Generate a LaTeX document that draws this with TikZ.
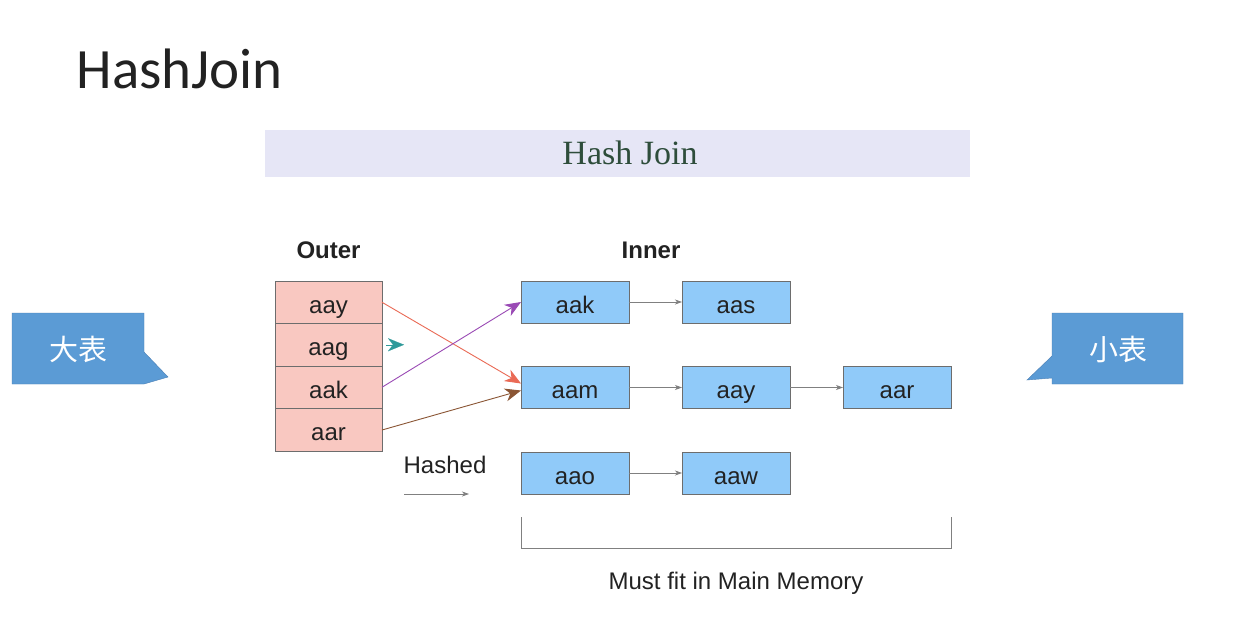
\documentclass[tikz,border=0pt]{standalone}
\usepackage{fontspec}
\setmainfont{Liberation Sans}
\newfontfamily\cjk{Noto Sans CJK SC}
\newfontfamily\headfont{Carlito}
\newfontfamily\bannerfont{Liberation Serif}
\usetikzlibrary{arrows.meta,calc}
\definecolor{outerfill}{HTML}{F9C8C1}
\definecolor{innerfill}{HTML}{90CAF9}
\definecolor{boxline}{HTML}{6D6D6D}
\definecolor{banner}{HTML}{E6E6F6}
\definecolor{bannertext}{HTML}{2E4D3B}
\definecolor{callout}{HTML}{5B9BD5}
\definecolor{calloutline}{HTML}{4A7FB5}
\definecolor{redarr}{HTML}{EA6A55}
\definecolor{purplearr}{HTML}{9A4AB5}
\definecolor{brownarr}{HTML}{8A5534}
\definecolor{tealarr}{HTML}{2E9A9A}
\definecolor{ink}{HTML}{222222}
\tikzset{
  outerbox/.style={rectangle,draw=boxline,fill=outerfill,minimum width=107pt,
    minimum height=42.5pt,inner sep=0pt,outer sep=0pt,text=ink,
    font=\fontsize{24}{28}\selectfont,text height=26pt,text depth=4pt},
  innerbox/.style={rectangle,draw=boxline,fill=innerfill,minimum width=108pt,
    minimum height=42pt,inner sep=0pt,outer sep=0pt,text=ink,
    font=\fontsize{24}{28}\selectfont,text height=26pt,text depth=4pt},
  link/.style={draw=gray,line width=0.8pt,-{Stealth[length=7pt,width=5pt,inset=2pt]}},
  hashline/.style={line width=0.9pt,-{Stealth[length=16pt,width=13pt,inset=5pt]}},
  label/.style={font=\fontsize{24}{28}\selectfont,text=ink},
}
\begin{document}
\begin{tikzpicture}[x=1pt,y=-1pt]
      \useasboundingbox[fill=white] (0,0) rectangle (1233,624);
      % title and banner
      \node[anchor=west,font=\headfont\fontsize{57}{62}\selectfont,text=ink] (title) at (73,69) {HashJoin};
      \fill[banner] (265,130) rectangle (970,177);
      \node[font=\bannerfont\fontsize{34}{38}\selectfont,text=bannertext] (banner) at (630,153) {Hash Join};

      % outer table
      \node[label,font=\bfseries\fontsize{24}{28}\selectfont] (outer) at (328.5,250) {Outer};
      \node[outerbox] (oy) at (328.5,302.25) {aay};
      \node[outerbox] (og) at (328.5,344.75) {aag};
      \node[outerbox] (ok) at (328.5,387.25) {aak};
      \node[outerbox] (or) at (328.5,429.75) {aar};

      % inner hash table
      \node[label,font=\bfseries\fontsize{24}{28}\selectfont] (inner) at (651,250) {Inner};
      \node[innerbox] (k1) at (575,302) {aak};
      \node[innerbox] (k2) at (736,302) {aas};
      \node[innerbox] (m1) at (575,387.5) {aam};
      \node[innerbox] (m2) at (736,387.5) {aay};
      \node[innerbox] (m3) at (897,387.5) {aar};
      \node[innerbox] (w1) at (575,473) {aao};
      \node[innerbox] (w2) at (736,473) {aaw};

      \draw[link] (k1) -- (k2);
      \draw[link] (m1) -- (m2);
      \draw[link] (m2) -- (m3);
      \draw[link] (w1) -- (w2);

      % hashed arrows
      \draw[hashline,redarr] (oy.east) -- ($(m1.west)+(0,-4)$);
      \draw[hashline,purplearr] (ok.east) -- (k1.west);
      \draw[hashline,brownarr] (or.east |- 0,430) -- ($(m1.west)+(0,3)$);
      \draw[hashline,tealarr,line width=0.1pt] ($(og.east)+(4,0)$) -- ++(18,0);

      \node[label] (hashed) at (445,465) {Hashed};
      \coordinate (hs) at (404,494);
      \coordinate (he) at (469,494);
      \draw[link] (hs) -- (he);

      % memory bracket
      \coordinate (bl) at (521,517);
      \coordinate (br) at (951,517);
      \draw[gray,line width=0.9pt] (bl) -- ++(0,31) -| (br);
      \node[label] (memory) at (736,583) {Must fit in Main Memory};

      % callouts
      \draw[calloutline,fill=callout] (12,313) -- (144,313) -- (144,352) -- (168,377)
        -- (144,384) -- (12,384) -- cycle;
      \node[font=\cjk\fontsize{29}{32}\selectfont,text=white] (big) at (78,349) {大表};
      \draw[calloutline,fill=callout] (1052,313) -- (1183,313) -- (1183,384) -- (1052,384)
        -- (1052,378) -- (1027,380) -- (1052,356) -- cycle;
      \node[font=\cjk\fontsize{29}{32}\selectfont,text=white] (small) at (1118,349) {小表};
\end{tikzpicture}
\end{document}
